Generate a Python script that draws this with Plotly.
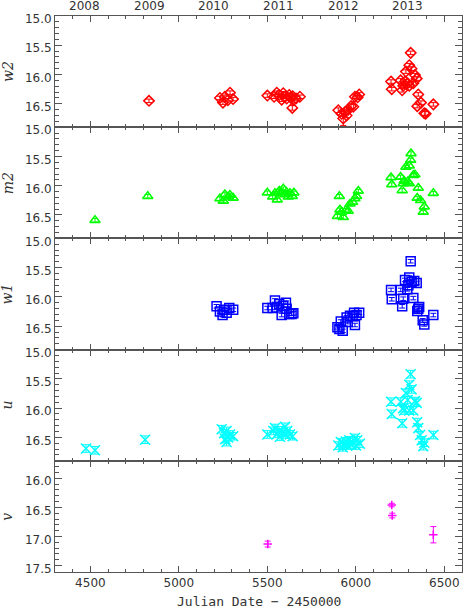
import plotly.graph_objects as go

# ---------------- data ----------------
year_labels = ["2008", "2009", "2010", "2011", "2012", "2013"]
year_jd = [4466.5, 4832.5, 5197.5, 5562.5, 5927.5, 6293.5]

w2_jd = [4831, 5232, 5249, 5260, 5277, 5289, 5306,
         5500, 5538, 5553, 5567, 5581, 5590, 5600, 5609, 5624, 5632, 5643, 5647, 5662, 5684, 5641,
         5901, 5920, 5929, 5939, 5948, 5957, 5973, 5986, 5995, 6010, 6019,
         6199, 6203, 6253, 6262, 6268, 6278, 6283, 6293, 6302, 6310, 6315, 6302, 6325, 6334, 6344,
         6353, 6368, 6347, 6387, 6395, 6438]
w2_mag = [16.45, 16.40, 16.48, 16.38, 16.44, 16.31, 16.42,
          16.36, 16.38, 16.31, 16.35, 16.43, 16.32, 16.38, 16.41, 16.35, 16.39, 16.37, 16.44, 16.41, 16.38, 16.57,
          16.61, 16.67, 16.75, 16.64, 16.70, 16.60, 16.54, 16.55, 16.38, 16.39, 16.34,
          16.12, 16.25, 16.10, 16.27, 16.19, 16.12, 15.95, 16.15, 15.84, 15.63, 15.90, 16.19, 16.15, 16.01, 16.07,
          16.34, 16.48, 16.54, 16.66, 16.67, 16.51]
w2_err = [0.03, 0.03, 0.03, 0.03, 0.03, 0.03, 0.03,
          0.03, 0.03, 0.03, 0.03, 0.03, 0.03, 0.03, 0.03, 0.03, 0.03, 0.03, 0.03, 0.03, 0.03, 0.04,
          0.04, 0.04, 0.12, 0.04, 0.04, 0.04, 0.04, 0.04, 0.03, 0.03, 0.03,
          0.03, 0.03, 0.03, 0.03, 0.03, 0.03, 0.03, 0.03, 0.03, 0.03, 0.03, 0.03, 0.03, 0.03, 0.03,
          0.03, 0.03, 0.03, 0.04, 0.04, 0.03]

m2_jd = [4526, 4824, 5232, 5251, 5260, 5279, 5289, 5307,
         5500, 5530, 5543, 5556, 5567, 5581, 5590, 5600, 5609, 5618, 5628, 5641, 5650,
         5896, 5907, 5910, 5920, 5929, 5944, 5957, 5967, 5982, 5995, 6004, 6014,
         6199, 6203, 6253, 6262, 6268, 6273, 6283, 6293, 6302, 6302, 6310, 6312, 6325, 6334,
         6353, 6347, 6366, 6387, 6381, 6438]
m2_mag = [16.59, 16.18, 16.22, 16.26, 16.15, 16.19, 16.16, 16.21,
          16.12, 16.19, 16.13, 16.24, 16.09, 16.12, 16.05, 16.15, 16.11, 16.19, 16.13, 16.18, 16.12,
          16.52, 16.18, 16.41, 16.45, 16.54, 16.42, 16.43, 16.31, 16.28, 16.22, 16.18, 16.09,
          15.86, 15.98, 15.85, 16.08, 15.96, 15.92, 15.68, 15.93, 15.96, 15.66, 15.56, 15.45, 15.82, 15.81,
          16.04, 16.21, 16.25, 16.36, 16.45, 16.13]

w1_jd = [5213, 5232, 5247, 5255, 5270, 5285, 5307,
         5500, 5530, 5543, 5553, 5567, 5581, 5590, 5605, 5609, 5624, 5637, 5647,
         5896, 5907, 5915, 5926, 5948, 5954, 5967, 5982, 5990, 5995, 6004, 6019,
         6199, 6203, 6254, 6262, 6268, 6278, 6291, 6297, 6302, 6310, 6315, 6325, 6330, 6344,
         6353, 6358, 6347, 6378, 6387, 6438]
w1_mag = [16.16, 16.25, 16.31, 16.22, 16.27, 16.19, 16.22,
          16.19, 16.19, 16.06, 16.18, 16.12, 16.31, 16.15, 16.10, 16.20, 16.29, 16.29, 16.28,
          16.52, 16.55, 16.42, 16.58, 16.35, 16.43, 16.32, 16.33, 16.27, 16.48, 16.31, 16.27,
          15.88, 16.04, 15.88, 16.16, 16.03, 15.71, 15.87, 15.80, 15.67, 15.39, 15.74, 16.02, 15.73, 15.76,
          16.20, 16.17, 16.24, 16.40, 16.47, 16.31]

u_jd = [4475, 4526, 4809,
        5242, 5255, 5270, 5262, 5279, 5289, 5307, 5270,
        5500, 5534, 5543, 5556, 5567, 5571, 5586, 5600, 5605, 5613, 5628, 5643,
        5901, 5915, 5926, 5933, 5944, 5952, 5963, 5971, 5982, 5995, 6001, 6008, 6023,
        6199, 6203, 6254, 6262, 6268, 6273, 6283, 6293, 6302, 6302, 6310, 6315, 6325, 6334, 6344,
        6347, 6353, 6363, 6372, 6381, 6387, 6438]
u_mag = [16.69, 16.72, 16.54,
         16.36, 16.43, 16.39, 16.53, 16.50, 16.45, 16.48, 16.58,
         16.45, 16.39, 16.34, 16.44, 16.38, 16.49, 16.42, 16.32, 16.45, 16.39, 16.45, 16.48,
         16.64, 16.58, 16.67, 16.61, 16.57, 16.64, 16.55, 16.62, 16.58, 16.51, 16.64, 16.55, 16.61,
         15.89, 16.10, 15.89, 16.26, 16.00, 16.04, 15.74, 15.86, 16.04, 15.60, 15.42, 15.68, 16.04, 15.88, 15.91,
         16.24, 16.34, 16.46, 16.55, 16.65, 16.59, 16.46]

v_jd = [5502, 6203, 6206, 6438]
v_mag = [17.13, 16.46, 16.64, 16.97]
v_err = [0.05, 0.03, 0.04, 0.14]

band_names = ["w2", "m2", "w1", "u", "v"]
y_ticks_uv = [15.0, 15.5, 16.0, 16.5]
y_ticks_v = [16.0, 16.5, 17.0, 17.5]

# ---------------- style ----------------
AX = "#555555"
TXT = "#333333"
FONT = "DejaVu Sans"

panels = [
    dict(x=w2_jd, y=w2_mag, err=dict(type="data", array=w2_err, width=3), sym="diamond-open", size=8, col="#ff0000"),
    dict(x=m2_jd, y=m2_mag, err=dict(type="constant", value=0.03, width=3), sym="triangle-up-open", size=9, col="#00ff00"),
    dict(x=w1_jd, y=w1_mag, err=dict(type="constant", value=0.03, width=3), sym="square-open", size=9, col="#0000ff"),
    dict(x=u_jd, y=u_mag, err=dict(type="constant", value=0.065, width=4), sym="x-thin-open", size=10, col="#00ffff"),
    dict(x=v_jd, y=v_mag, err=dict(type="data", array=v_err, width=3), sym="cross-thin-open", size=6, col="#ff00ff"),
]
y_ranges = [[16.9, 15.0], [16.9, 15.0], [16.9, 15.0], [16.9, 15.0], [17.61, 15.7]]

fig = go.Figure()
n = len(panels)
for i, p in enumerate(panels):
    k = "" if i == 0 else str(i + 1)
    err = dict(p["err"])
    err.update(color=p["col"], thickness=1, visible=True)
    fig.add_trace(go.Scatter(
        x=p["x"], y=p["y"], mode="markers",
        xaxis="x" + k, yaxis="y" + k,
        marker=dict(symbol=p["sym"], size=p["size"], color=p["col"],
                    line=dict(color=p["col"], width=1.5)),
        error_y=err, showlegend=False, hoverinfo="x+y",
    ))
    top = 1 - i / n
    bot = 1 - (i + 1) / n
    fig.update_layout(**{
        "xaxis" + k: dict(
            domain=[0, 1], anchor="y" + k, range=[4300, 6600],
            showline=True, linecolor=AX, linewidth=1, mirror="allticks",
            ticks="inside", ticklen=6, tickcolor=AX, tickwidth=1,
            tick0=0, dtick=500,
            minor=dict(ticks="inside", ticklen=3, dtick=100, tickcolor=AX, showgrid=False),
            showgrid=False, zeroline=False,
            showticklabels=(i == n - 1),
            tickfont=dict(family=FONT, size=12, color=TXT),
        ),
        "yaxis" + k: dict(
            domain=[bot, top], anchor="x" + k, range=y_ranges[i],
            showline=True, linecolor=AX, linewidth=1, mirror="allticks",
            ticks="inside", ticklen=7, tickcolor=AX, tickwidth=1,
            tickvals=(y_ticks_v if i == n - 1 else y_ticks_uv), tickformat=".1f",
            minor=dict(ticks="inside", ticklen=4, dtick=0.1, tickcolor=AX, showgrid=False),
            showgrid=False, zeroline=False, ticklabelshift=-3,
            tickfont=dict(family=FONT, size=12, color=TXT),
        ),
    })

annotations = []
for i, name in enumerate(band_names):
    annotations.append(dict(
        text="<i>" + name + "</i>", xref="paper", yref="paper",
        x=-0.117, y=1 - (i + 0.5) / n, xanchor="center", yanchor="middle",
        textangle=-90, showarrow=False,
        font=dict(family="DejaVu Serif", size=14, color=TXT),
    ))
for lab, jd in zip(year_labels, year_jd):
    annotations.append(dict(
        text=lab, xref="x", yref="paper", x=jd, y=1, xanchor="center", yanchor="middle",
        yshift=10, showarrow=False, font=dict(family=FONT, size=12, color=TXT),
    ))
annotations.append(dict(
    text="Julian Date \u2212 2450000", xref="paper", yref="paper", x=0.5, y=0,
    xanchor="center", yanchor="middle", yshift=-29, showarrow=False,
    font=dict(family="DejaVu Sans Mono", size=13, color=TXT),
))

fig.update_layout(
    width=463, height=609,
    margin=dict(l=55, r=1, t=16, b=37),
    paper_bgcolor="white", plot_bgcolor="white",
    annotations=annotations,
)

fig.write_html("out.html", config={"displayModeBar": False},
               post_script="document.body.style.margin='0';document.body.style.overflow='hidden';")
